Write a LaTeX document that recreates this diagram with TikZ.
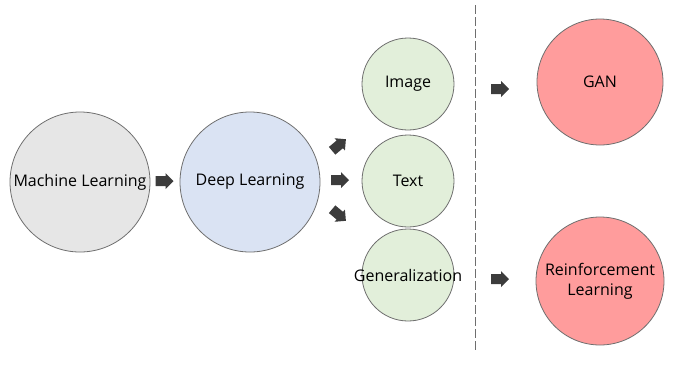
\documentclass[tikz,border=0pt]{standalone}
\usepackage{fontspec}
\setmainfont{Open Sans}
\definecolor{bordc}{HTML}{6E6E6E}
\definecolor{mlc}{HTML}{E6E6E6}
\definecolor{dlc}{HTML}{DAE3F3}
\definecolor{grc}{HTML}{E2EFDA}
\definecolor{rdc}{HTML}{FF9C9C}
\definecolor{arc}{HTML}{3C3C3C}
\tikzset{
  circ/.style={circle, draw=bordc, line width=0.8pt, inner sep=0pt, font=\fontsize{16}{20}\selectfont, align=center},
  fatarrow/.pic={\fill[arc] (-9,-5) -- (1,-5) -- (1,-8) -- (9,0) -- (1,8) -- (1,5) -- (-9,5) -- cycle;},
}
\begin{document}
\begin{tikzpicture}[x=1pt,y=-1pt]
\useasboundingbox (0,0) rectangle (693,368);
\node[circ, fill=mlc, minimum size=140pt] (ml) at (80,182) {Machine Learning};
\node[circ, fill=dlc, minimum size=140pt] (dl) at (250,182) {Deep Learning};
\node[circ, fill=grc, minimum size=92pt] (img) at (408,84) {Image};
\node[circ, fill=grc, minimum size=92pt] (txt) at (408,181) {Text};
\node[circ, fill=grc, minimum size=92pt] (gen) at (408,275) {};
\node[font=\fontsize{16}{20}\selectfont] (genl) at (gen.center) {Generalization};
\node[circ, fill=rdc, minimum size=126pt] (gan) at (600,82) {GAN};
\node[circ, fill=rdc, minimum size=128pt] (rl) at (600,281) {Reinforcement\\Learning};
\pic at (164.5,181) {fatarrow};
\pic at (340,180) {fatarrow};
\pic[rotate=40] at (339,145) {fatarrow};
\pic[rotate=-40] at (339,215) {fatarrow};
\pic at (500,89) {fatarrow};
\pic at (500,279) {fatarrow};
\coordinate (dtop) at (475,5);
\coordinate (dbot) at (475,352);
\draw[bordc, line width=1pt, dash pattern=on 9pt off 3pt] (dtop) -- (dbot);
\end{tikzpicture}
\end{document}
